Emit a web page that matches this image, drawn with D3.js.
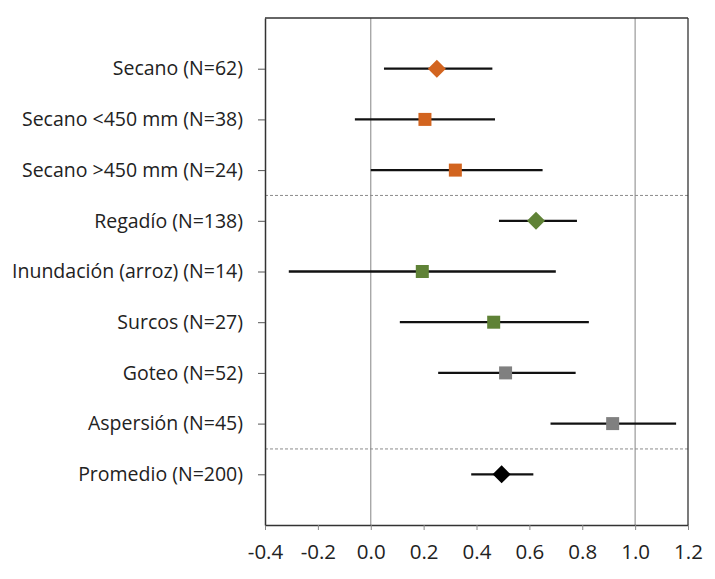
<!DOCTYPE html>
<html><head><meta charset="utf-8">
<script src="https://cdn.jsdelivr.net/npm/d3@7"></script>
<style>html,body{margin:0;padding:0;background:#fff;}svg{display:block;}</style>
</head><body>
<svg id="chart" width="715" height="579"></svg>
<script>
const categories = ["Secano (N=62)","Secano <450 mm (N=38)","Secano >450 mm (N=24)","Regadío (N=138)","Inundación (arroz) (N=14)","Surcos (N=27)","Goteo (N=52)","Aspersión (N=45)","Promedio (N=200)"];
const means = [0.25, 0.205, 0.32, 0.625, 0.195, 0.465, 0.51, 0.915, 0.495];
const lower = [0.05, -0.06, 0.0, 0.485, -0.31, 0.11, 0.255, 0.68, 0.38];
const upper = [0.46, 0.47, 0.65, 0.78, 0.70, 0.825, 0.775, 1.155, 0.615];
const shapes = ["diamond","square","square","diamond","square","square","square","square","diamond"];
const colors = ["#d2641f","#d2641f","#d2641f","#5f8236","#5f8236","#5f8236","#808080","#808080","#000000"];
const xTicks = [-0.4,-0.2,0.0,0.2,0.4,0.6,0.8,1.0,1.2];
const separators = [2.5, 7.5];
const refLines = [0, 1];

const svg = d3.select("#chart");
const pL = 265, pR = 688, pT = 18, pB = 525;
const x = d3.scaleLinear().domain([-0.4,1.2]).range([pL,pR]);
const y = d3.scaleLinear().domain([-1,9]).range([pT,pB]);
const font = "'Open Sans', Lato, sans-serif";

svg.selectAll(".ref").data(refLines).enter().append("line")
  .attr("x1", d=>x(d)).attr("x2", d=>x(d)).attr("y1", pT).attr("y2", pB)
  .attr("stroke", "#999").attr("stroke-width", 1.2);

svg.selectAll(".sep").data(separators).enter().append("line")
  .attr("x1", pL).attr("x2", pR).attr("y1", d=>y(d)).attr("y2", d=>y(d))
  .attr("stroke", "#8c8c8c").attr("stroke-width", 1).attr("stroke-dasharray", "3,2");

svg.append("line").attr("x1", pL).attr("x2", pR).attr("y1", pT).attr("y2", pT).attr("stroke","#333").attr("stroke-width",1.3);
svg.append("line").attr("x1", pR).attr("x2", pR).attr("y1", pT).attr("y2", pB).attr("stroke","#333").attr("stroke-width",1.3);

const xAxis = svg.append("g").attr("transform", `translate(0,${pB})`)
  .call(d3.axisBottom(x).tickValues(xTicks).tickFormat(d => d < 0 ? "-" + d3.format(".1f")(-d) : d3.format(".1f")(d)).tickSize(5).tickSizeOuter(0));
xAxis.attr("font-size", null).attr("font-family", null);
xAxis.select(".domain").attr("stroke","#333").attr("stroke-width",1.5);
xAxis.selectAll(".tick line").attr("stroke","#888");
xAxis.selectAll("text").style("font-family", font).style("font-size", "20.5px").attr("fill","#222").attr("y", 19).attr("dy","0.71em");

const yAxis = svg.append("g").attr("transform", `translate(${pL},0)`)
  .call(d3.axisLeft(y).tickValues(d3.range(categories.length)).tickFormat(i=>categories[i]).tickSize(7).tickSizeOuter(0));
yAxis.attr("font-size", null).attr("font-family", null);
yAxis.select(".domain").attr("stroke","#333").attr("stroke-width",1.5);
yAxis.selectAll(".tick line").attr("stroke","#555");
yAxis.selectAll("text").style("font-family", font).style("font-size", "19.5px").attr("fill","#222").attr("x", -22);

const idx = d3.range(categories.length);
svg.selectAll(".err").data(idx).enter().append("line")
  .attr("x1", i=>x(lower[i])).attr("x2", i=>x(upper[i]))
  .attr("y1", i=>y(i)).attr("y2", i=>y(i))
  .attr("stroke", "#111").attr("stroke-width", 2.3);

svg.selectAll(".mk").data(idx).enter().append("path")
  .attr("transform", i=>`translate(${x(means[i])},${y(i)})`)
  .attr("d", i => shapes[i]==="diamond" ? "M0,-9L9,0L0,9L-9,0Z" : "M-6.5,-6.5H6.5V6.5H-6.5Z")
  .attr("fill", i=>colors[i]);
</script>
</body></html>
